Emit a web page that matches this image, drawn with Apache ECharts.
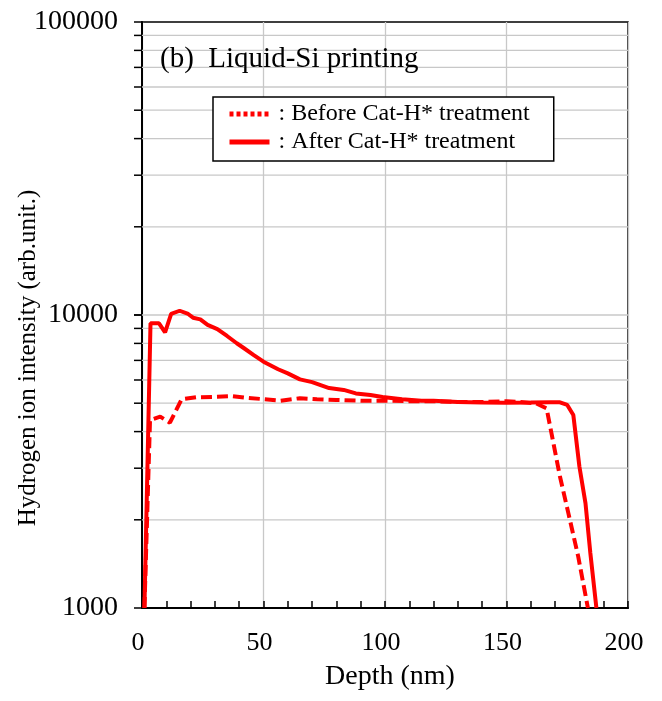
<!DOCTYPE html>
<html>
<head>
<meta charset="utf-8">
<script src="https://cdn.jsdelivr.net/npm/echarts@6/dist/echarts.min.js"></script>
<style>
html,body{margin:0;padding:0;background:#fff;}
#chart{width:662px;height:701px;}
</style>
</head>
<body>
<div id="chart"></div>
<script>
// Depth (nm) / intensity pairs
const afterDepth = [1, 3.5, 7, 9.5, 12, 15.5, 19, 21, 24, 27, 31, 35, 39, 42, 46, 50, 56, 60, 65, 70, 77, 83, 88, 94, 99, 107, 115, 120, 130, 140, 150, 160, 168, 172, 175, 177.5, 180, 182.5, 184.5, 187];
const afterValue = [1000, 9370, 9370, 8730, 10080, 10340, 10080, 9790, 9660, 9250, 8950, 8480, 8010, 7700, 7300, 6930, 6530, 6320, 6030, 5900, 5630, 5550, 5400, 5330, 5250, 5160, 5100, 5100, 5050, 5030, 5020, 5030, 5040, 5035, 4930, 4560, 3040, 2280, 1540, 1000];

const beforeDepth = [1, 3.3, 7.5, 11.5, 16.3, 22.5, 31, 37, 43, 50, 57, 65, 72, 80, 90, 100, 110, 120, 130, 140, 150, 155, 162, 166.5, 168.5, 172, 175.5, 179.5, 183.5];
const beforeValue = [1000, 4380, 4500, 4290, 5160, 5240, 5260, 5290, 5220, 5160, 5100, 5200, 5160, 5130, 5100, 5100, 5080, 5080, 5050, 5050, 5080, 5050, 5000, 4800, 3950, 2810, 2100, 1500, 1000];

const seriesNames = ['Before Cat-H* treatment', 'After Cat-H* treatment'];
const xTicks = [0, 50, 100, 150, 200];
const yGridValues = [2000, 3000, 4000, 5000, 6000, 7000, 8000, 9000, 10000, 20000, 30000, 40000, 50000, 60000, 70000, 80000, 90000];

const FONT = '"Liberation Serif", "Times New Roman", serif';
const chart = echarts.init(document.getElementById('chart'), null, {renderer: 'canvas'});

const zip = (xs, ys) => xs.map((x, i) => [x, ys[i]]);

chart.setOption({
  animation: false,
  backgroundColor: '#fff',
  title: {
    text: '(b)  Liquid-Si printing',
    left: 155, top: 40,
    textStyle: {fontFamily: FONT, fontSize: 29, fontWeight: 'normal', color: '#000'}
  },
  legend: {
    data: [
      {name: seriesNames[0], itemStyle: {opacity: 0, borderWidth: 0}, lineStyle: {type: [4, 3], width: 5, color: '#ff0000', opacity: 1}},
      {name: seriesNames[1], itemStyle: {opacity: 0, borderWidth: 0}, lineStyle: {type: 'solid', width: 5, color: '#ff0000', opacity: 1}}
    ],
    orient: 'vertical',
    left: 213, top: 97,
    padding: [5, 24, 7, 14],
    itemGap: 4,
    itemWidth: 40,
    itemHeight: 24,
    borderColor: '#000',
    borderWidth: 1.5,
    backgroundColor: '#fff',
    formatter: ': {name}',
    textStyle: {fontFamily: FONT, fontSize: 24, color: '#000', padding: [0, 0, 0, 4]}
  },
  grid: {
    left: 142, right: 34, top: 22, bottom: 93,
    show: true, borderColor: '#000', borderWidth: 1.5, backgroundColor: 'transparent'
  },
  xAxis: {
    type: 'value', min: xTicks[0], max: xTicks[xTicks.length - 1], interval: 50,
    axisLine: {show: true, lineStyle: {color: '#000', width: 2}},
    axisTick: {show: true, inside: true, length: 7, lineStyle: {color: '#000', width: 1.5}},
    minorTick: {show: true, splitNumber: 5, length: 7, lineStyle: {color: '#000', width: 1.5}},
    splitLine: {show: true, lineStyle: {color: '#c8c8c8', width: 1.3}},
    axisLabel: {fontFamily: FONT, fontSize: 26, color: '#000', margin: 22, padding: [0, 8, 0, 0]}
  },
  yAxis: {
    type: 'log', logBase: 10, min: 1000, max: 100000,
    axisLine: {show: true, onZero: false, lineStyle: {color: '#000', width: 2}},
    axisTick: {show: true, inside: false, length: 8, lineStyle: {color: '#000', width: 1.5}},
    splitLine: {show: false},
    axisLabel: {fontFamily: FONT, fontSize: 28, color: '#000', margin: 24, formatter: v => String(Math.round(v))}
  },
  graphic: [
    {
      type: 'text', x: 28, y: 358, rotation: Math.PI / 2,
      style: {text: 'Hydrogen ion intensity (arb.unit.)', font: '25px ' + FONT, fill: '#000', textAlign: 'center', textVerticalAlign: 'middle'}
    },
    {
      type: 'text', x: 390, y: 677,
      style: {text: 'Depth (nm)', font: '28px ' + FONT, fill: '#000', textAlign: 'center', textVerticalAlign: 'middle'}
    }
  ],
  series: [
    {
      type: 'custom',
      name: 'ygrid',
      clip: false,
      silent: true,
      z: 1,
      data: yGridValues.map(v => [xTicks[0], v]),
      renderItem: function (params, api) {
        const v = api.value(1);
        const p0 = api.coord([xTicks[0], v]);
        const p1 = api.coord([xTicks[xTicks.length - 1], v]);
        return {
          type: 'group',
          children: [
            {type: 'line', shape: {x1: p0[0], y1: p0[1], x2: p1[0], y2: p1[1]}, style: {stroke: '#c8c8c8', lineWidth: 1.3}},
            {type: 'line', shape: {x1: p0[0] - 8, y1: p0[1], x2: p0[0], y2: p0[1]}, style: {stroke: '#000', lineWidth: 1.5}}
          ]
        };
      }
    },
    {
      name: seriesNames[0],
      type: 'line',
      data: zip(beforeDepth, beforeValue),
      symbol: 'none',
      z: 3,
      lineStyle: {color: '#ff0000', width: 4, type: [11, 5]},
      itemStyle: {color: '#ff0000'}
    },
    {
      name: seriesNames[1],
      type: 'line',
      data: zip(afterDepth, afterValue),
      symbol: 'none',
      z: 4,
      lineStyle: {color: '#ff0000', width: 4, type: 'solid'},
      itemStyle: {color: '#ff0000'}
    }
  ]
});
</script>
</body>
</html>
